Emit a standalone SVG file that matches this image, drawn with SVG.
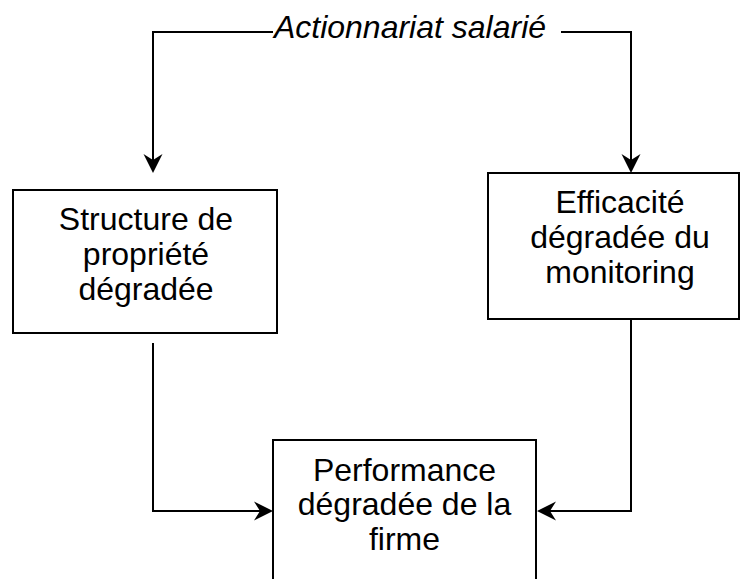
<svg xmlns="http://www.w3.org/2000/svg" width="740" height="579" viewBox="0 0 740 579">
<style>
.box{fill:#fff;stroke:#000;stroke-width:2}
.t{font-family:"Liberation Sans",Arial,sans-serif;font-size:32px;fill:#000;text-anchor:middle}
.lbl{font-family:"Liberation Sans",Arial,sans-serif;font-size:32px;font-style:italic;fill:#000;text-anchor:middle}
.edge{fill:none;stroke:#000;stroke-width:2}
</style>
<defs>
<marker id="arr" viewBox="-21 -11 22 22" refX="-13" refY="0" markerWidth="22" markerHeight="22" markerUnits="userSpaceOnUse" orient="auto">
<path d="M0,0 L-19,-9.5 L-13,0 L-19,9.5 Z" fill="#000"/>
</marker>
</defs>
<rect width="740" height="579" fill="#fff"/>
<g id="connectors">
<path class="edge" d="M273,32 H153 V160" marker-end="url(#arr)"/>
<path class="edge" d="M561,32 H631 V160" marker-end="url(#arr)"/>
<path class="edge" d="M153,343 V511 H260" marker-end="url(#arr)"/>
<path class="edge" d="M631,319 V511 H550" marker-end="url(#arr)"/>
</g>
<g id="label-actionnariat">
<text class="lbl" x="410" y="38">Actionnariat salarié</text>
</g>
<g id="node-structure">
<rect class="box" x="13" y="190" width="264" height="143"/>
<text class="t" x="146" y="230">Structure de</text>
<text class="t" x="146" y="265">propriété</text>
<text class="t" x="146" y="300">dégradée</text>
</g>
<g id="node-efficacite">
<rect class="box" x="488" y="173" width="251" height="146"/>
<text class="t" x="620" y="213">Efficacité</text>
<text class="t" x="620" y="248">dégradée du</text>
<text class="t" x="620" y="283">monitoring</text>
</g>
<g id="node-performance">
<rect class="box" x="273" y="440" width="263" height="150"/>
<text class="t" x="404.5" y="481">Performance</text>
<text class="t" x="404.5" y="515">dégradée de la</text>
<text class="t" x="404.5" y="550">firme</text>
</g>
</svg>
